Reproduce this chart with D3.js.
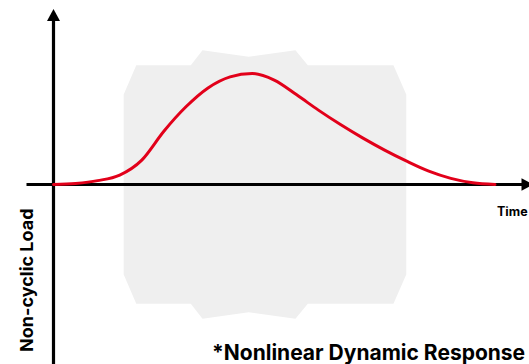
<!DOCTYPE html>
<html>
<head>
<meta charset="utf-8">
<script src="https://cdn.jsdelivr.net/npm/d3@7"></script>
<style>
  html, body { margin: 0; padding: 0; background: #ffffff; }
  svg { display: block; }
  text { font-family: Inter, "Noto Sans", sans-serif; font-weight: 700; fill: #000; }
</style>
</head>
<body>
<svg id="chart" width="529" height="364"></svg>
<script>
// Load history: time (arbitrary units) against normalised load
const time = [0, 0.5, 1, 1.5, 2, 2.5, 3, 3.5, 4, 4.5, 5, 5.5, 6, 6.5, 7, 7.5, 8, 8.5, 9, 9.5, 10];
const load = [0, 0.01, 0.035, 0.085, 0.22, 0.48, 0.70, 0.87, 0.97, 1.0, 0.94, 0.81, 0.67, 0.54, 0.42, 0.31, 0.21, 0.12, 0.055, 0.015, 0];

// Upper outline of the shaded response envelope (time, load); the lower half mirrors it
const envTime = [1.59, 1.875, 3.11, 3.375, 4.42, 5.48, 5.76, 7.70, 7.99];
const envLoad = [0.81, 1.075, 1.075, 1.21, 1.15, 1.21, 1.075, 1.075, 0.81];

// Labels
const xLabel = "Time";
const yLabel = "Non-cyclic Load";
const note = "*Nonlinear Dynamic Response";

const W = 529, H = 364;
const svg = d3.select("#chart");

const x = d3.scaleLinear().domain([0, 10]).range([53.5, 495]);
const y = d3.scaleLinear().domain([0, 1]).range([184.5, 73.5]);

// Shaded envelope
const upper = envTime.map((t, i) => [t, envLoad[i]]);
const lower = upper.slice().reverse().map(([t, l]) => [t, -l]);
svg.append("path")
  .attr("d", d3.line().x(d => x(d[0])).y(d => y(d[1]))([...upper, ...lower]) + "Z")
  .attr("fill", "#efefef");

// Axes with arrowheads
const ax = x(0), ay = y(0);
svg.append("line")
  .attr("x1", ax).attr("x2", ax).attr("y1", 19).attr("y2", H)
  .attr("stroke", "#000").attr("stroke-width", 3.2);
svg.append("line")
  .attr("x1", 26.5).attr("x2", 523).attr("y1", ay).attr("y2", ay)
  .attr("stroke", "#000").attr("stroke-width", 3.2);
svg.append("path")
  .attr("d", `M${ax},9 L${ax + 6.5},21 L${ax - 6.5},21 Z`)
  .attr("fill", "#000");
svg.append("path")
  .attr("d", `M533,${ay} L521.5,${ay - 6.3} L521.5,${ay + 6.3} Z`)
  .attr("fill", "#000");

// Load curve
const line = d3.line()
  .x((d, i) => x(time[i]))
  .y(d => y(d))
  .curve(d3.curveMonotoneX);
svg.append("path")
  .attr("d", line(load))
  .attr("fill", "none")
  .attr("stroke", "#e2001a")
  .attr("stroke-width", 3)
  .attr("stroke-linecap", "round");

// Axis titles and note
svg.append("text")
  .attr("x", 497).attr("y", 216)
  .attr("font-size", 12.5)
  .text(xLabel);
svg.append("text")
  .attr("transform", "translate(33,352) rotate(-90)")
  .attr("font-size", 18)
  .text(yLabel);
svg.append("text")
  .attr("x", 212).attr("y", 360)
  .attr("font-size", 21)
  .text(note);
</script>
</body>
</html>
